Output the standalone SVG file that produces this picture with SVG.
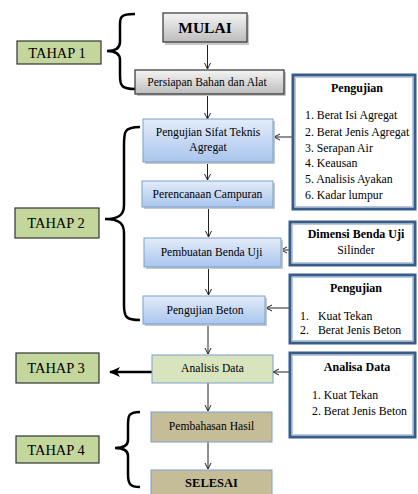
<svg xmlns="http://www.w3.org/2000/svg" width="418" height="494" viewBox="0 0 418 494" font-family="'Liberation Serif', 'DejaVu Serif', serif">
<defs>
<linearGradient id="gGray" x1="0" y1="0" x2="0" y2="1"><stop offset="0" stop-color="#F4F4F4"/><stop offset="1" stop-color="#BDBDBD"/></linearGradient>
<linearGradient id="gBlue" x1="0" y1="0" x2="0" y2="1"><stop offset="0" stop-color="#E3ECF9"/><stop offset="1" stop-color="#A9C5EE"/></linearGradient>
<marker id="ah" markerWidth="8" markerHeight="8" refX="7" refY="4" orient="auto" markerUnits="userSpaceOnUse"><path d="M1,1 L7,4 L1,7" fill="none" stroke="#222" stroke-width="1"/></marker>
<marker id="ahBig" markerWidth="12" markerHeight="10" refX="10" refY="5" orient="auto" markerUnits="userSpaceOnUse"><path d="M0,0 L11,5 L0,10 L3,5 Z" fill="#000"/></marker>
</defs>
<style>
text{font-family:'Liberation Serif','DejaVu Serif',serif;fill:#000;}
.lbl{font-size:11.6px;text-anchor:middle;}
.tah{font-size:14.5px;text-anchor:middle;}
.tahbox{fill:#C3D69B;stroke:#333;stroke-width:1.2;}
.gray{fill:url(#gGray);stroke:#333;stroke-width:1.2;}
.blue{fill:url(#gBlue);stroke:#7BA0CD;stroke-width:1;}
.green{fill:#D7E4BD;stroke:#7BA0CD;stroke-width:1;}
.tan{fill:#C4BD97;stroke:#7BA0CD;stroke-width:1;}
.shadow{fill:#C8C8C8;}
.side{fill:#fff;stroke:#385D8A;stroke-width:3;}
.sidein{fill:none;stroke:#A9BCD6;stroke-width:0.8;}
.title{font-size:12px;font-weight:bold;text-anchor:middle;}
.item{font-size:11.8px;}
.brace{fill:none;stroke:#000;stroke-width:2.5;}
.conn{fill:none;stroke:#222;stroke-width:1;}
</style>

<g id="braces">
<path class="brace" d="M135,14 C118,14 120,18 120,30 L120,42 C120,48 116,51 107,51 C116,51 120,54 120,60 L120,76 C120,86 122,89 135,89"/>
<path class="brace" d="M140,127 C124,127 124,132 124,145 L124,205 C124,214 120,219 105,219 C120,219 124,224 124,233 L124,305 C124,317 126,320 140,320"/>
<path class="brace" d="M140,412 C128,412 128,416 128,426 L128,440 C128,445 124,448 115,448 C124,448 128,451 128,456 L128,474 C128,484 130,487 140,487"/>
</g>

<g id="tahap1"><rect class="tahbox" x="17" y="41" width="84" height="23"/><text class="tah" x="57" y="57.5">TAHAP 1</text></g>
<g id="tahap2"><rect class="tahbox" x="15" y="208" width="84" height="30"/><text class="tah" x="56" y="228">TAHAP 2</text></g>
<g id="tahap3"><rect class="tahbox" x="16" y="353" width="83" height="30"/><text class="tah" x="56" y="373">TAHAP 3</text></g>
<g id="tahap4"><rect class="tahbox" x="16" y="436" width="83" height="27"/><text class="tah" x="56" y="454.5">TAHAP 4</text></g>

<g id="connectors">
<line class="conn" x1="207.5" y1="42" x2="207.5" y2="69" marker-end="url(#ah)"/>
<line class="conn" x1="207.5" y1="94" x2="207.5" y2="119" marker-end="url(#ah)"/>
<line class="conn" x1="207.5" y1="162" x2="207.5" y2="180" marker-end="url(#ah)"/>
<line class="conn" x1="208.5" y1="207" x2="208.5" y2="237" marker-end="url(#ah)"/>
<line class="conn" x1="208.5" y1="267" x2="208.5" y2="295" marker-end="url(#ah)"/>
<line class="conn" x1="208" y1="324" x2="208" y2="354" marker-end="url(#ah)"/>
<line class="conn" x1="208" y1="383" x2="208" y2="411" marker-end="url(#ah)"/>
<line class="conn" x1="208" y1="442" x2="208" y2="469" marker-end="url(#ah)"/>
<line class="conn" x1="292" y1="137" x2="274" y2="137" marker-end="url(#ah)"/>
<line class="conn" x1="289" y1="250" x2="281" y2="250" marker-end="url(#ah)"/>
<line class="conn" x1="289" y1="308" x2="266" y2="308" marker-end="url(#ah)"/>
<line class="conn" x1="289" y1="372" x2="273" y2="372" marker-end="url(#ah)"/>
<line x1="152" y1="372" x2="110" y2="372" stroke="#000" stroke-width="2.5" marker-end="url(#ahBig)"/>
</g>

<g id="mulai"><rect class="shadow" x="165" y="15" width="84" height="30"/><rect class="gray" x="163" y="13" width="84" height="29"/><text x="205" y="33" font-size="15.5" font-weight="bold" text-anchor="middle">MULAI</text></g>
<g id="persiapan"><rect class="shadow" x="137" y="72" width="149" height="24"/><rect class="gray" x="135" y="70" width="149" height="24"/><text class="lbl" x="207" y="86">Persiapan Bahan dan Alat</text></g>
<g id="sifat"><rect class="shadow" x="145" y="121" width="130" height="43"/><rect class="blue" x="143" y="119" width="130" height="43"/><text class="lbl" x="208" y="136">Pengujian Sifat Teknis</text><text class="lbl" x="208" y="151">Agregat</text></g>
<g id="perencanaan"><rect class="shadow" x="144" y="183" width="131" height="26"/><rect class="blue" x="142" y="181" width="131" height="26"/><text class="lbl" x="207.5" y="197.5">Perencanaan Campuran</text></g>
<g id="pembuatan"><rect class="shadow" x="146" y="240" width="137" height="29"/><rect class="blue" x="144" y="238" width="137" height="29"/><text class="lbl" x="211.5" y="256">Pembuatan Benda Uji</text></g>
<g id="beton"><rect class="shadow" x="145" y="298" width="122" height="28"/><rect class="blue" x="143" y="296" width="122" height="28"/><text class="lbl" x="205" y="313.5">Pengujian Beton</text></g>
<g id="analisis"><rect class="green" x="152" y="355" width="121" height="28"/><text class="lbl" x="212.5" y="372">Analisis Data</text></g>
<g id="pembahasan"><rect class="tan" x="151" y="412" width="121" height="30"/><text class="lbl" x="211.5" y="430">Pembahasan Hasil</text></g>
<g id="selesai"><rect class="tan" x="151" y="470" width="121" height="30"/><text x="211.5" y="487" font-size="12.5" font-weight="bold" text-anchor="middle">SELESAI</text></g>

<g id="uji-agregat"><rect class="side" x="293" y="75" width="122" height="134"/><rect class="sidein" x="295.5" y="77.5" width="117" height="129"/>
<text class="title" x="357" y="92">Pengujian</text>
<text class="item" x="305" y="119">1. Berat Isi Agregat</text>
<text class="item" x="305" y="136">2. Berat Jenis Agregat</text>
<text class="item" x="305" y="152">3. Serapan Air</text>
<text class="item" x="305" y="167">4. Keausan</text>
<text class="item" x="305" y="183">5. Analisis Ayakan</text>
<text class="item" x="305" y="199">6. Kadar lumpur</text>
</g>
<g id="dimensi"><rect class="side" x="290" y="222" width="125" height="43"/><rect class="sidein" x="292.5" y="224.5" width="120" height="38"/>
<text class="title" x="356" y="238">Dimensi Benda Uji</text>
<text class="item" x="356" y="254" text-anchor="middle">Silinder</text>
</g>
<g id="uji-beton"><rect class="side" x="290" y="275" width="125" height="68"/><rect class="sidein" x="292.5" y="277.5" width="120" height="63"/>
<text class="title" x="356" y="292">Pengujian</text>
<text class="item" x="300" y="320">1.</text><text class="item" x="318" y="320">Kuat Tekan</text>
<text class="item" x="300" y="334">2.</text><text class="item" x="318" y="334">Berat Jenis Beton</text>
</g>
<g id="analisa"><rect class="side" x="290" y="353" width="125" height="84"/><rect class="sidein" x="292.5" y="355.5" width="120" height="79"/>
<text class="title" x="357" y="371">Analisa Data</text>
<text class="item" x="312" y="399">1. Kuat Tekan</text>
<text class="item" x="312" y="415">2. Berat Jenis Beton</text>
</g>
</svg>
